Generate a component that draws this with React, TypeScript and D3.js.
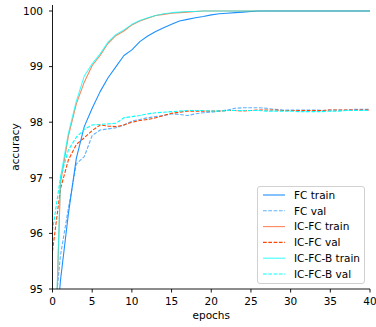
import React from "react";
import * as d3 from "d3";

// Accuracy (%) per epoch, epochs 0..40
const epochs = d3.range(0, 41);

const fcTrain = [93.4, 95.15, 96.35, 97.35, 97.92, 98.25, 98.55, 98.8, 99.0, 99.2, 99.3, 99.45, 99.55, 99.63, 99.7, 99.76, 99.82, 99.85, 99.88, 99.9, 99.93, 99.95, 99.96, 99.97, 99.98, 99.99, 100, 100, 100, 100, 100, 100, 100, 100, 100, 100, 100, 100, 100, 100, 100];
const fcVal = [94.1, 95.6, 96.45, 97.25, 97.38, 97.76, 97.86, 97.88, 97.9, 97.95, 98.02, 98.05, 98.08, 98.1, 98.12, 98.15, 98.14, 98.12, 98.15, 98.17, 98.18, 98.2, 98.22, 98.25, 98.26, 98.26, 98.26, 98.25, 98.23, 98.22, 98.22, 98.22, 98.22, 98.22, 98.21, 98.22, 98.22, 98.22, 98.23, 98.23, 98.23];
const icfcTrain = [92.15, 96.9, 97.75, 98.33, 98.72, 99.02, 99.2, 99.42, 99.56, 99.64, 99.75, 99.82, 99.87, 99.92, 99.94, 99.96, 99.97, 99.98, 99.99, 100, 100, 100, 100, 100, 100, 100, 100, 100, 100, 100, 100, 100, 100, 100, 100, 100, 100, 100, 100, 100, 100];
const icfcVal = [95.68, 96.8, 97.32, 97.6, 97.72, 97.85, 97.95, 97.93, 97.92, 97.95, 98.0, 98.03, 98.05, 98.08, 98.12, 98.16, 98.18, 98.2, 98.2, 98.2, 98.2, 98.2, 98.21, 98.21, 98.2, 98.21, 98.22, 98.22, 98.22, 98.21, 98.21, 98.21, 98.21, 98.21, 98.21, 98.22, 98.22, 98.22, 98.22, 98.22, 98.22];
const icfcbTrain = [92.2, 97.0, 97.8, 98.38, 98.83, 99.05, 99.23, 99.44, 99.58, 99.66, 99.76, 99.83, 99.88, 99.92, 99.95, 99.97, 99.98, 99.99, 99.99, 100, 100, 100, 100, 100, 100, 100, 100, 100, 100, 100, 100, 100, 100, 100, 100, 100, 100, 100, 100, 100, 100];
const icfcbVal = [96.05, 97.0, 97.5, 97.73, 97.87, 97.95, 97.96, 97.97, 97.98, 98.08, 98.1, 98.12, 98.15, 98.17, 98.18, 98.19, 98.2, 98.21, 98.21, 98.21, 98.2, 98.2, 98.21, 98.21, 98.21, 98.21, 98.21, 98.2, 98.2, 98.2, 98.2, 98.19, 98.19, 98.19, 98.19, 98.2, 98.2, 98.21, 98.21, 98.21, 98.21];

const seriesNames = ["FC train", "FC val", "IC-FC train", "IC-FC val", "IC-FC-B train", "IC-FC-B val"];
const seriesValues = [fcTrain, fcVal, icfcTrain, icfcVal, icfcbTrain, icfcbVal];
const seriesColors = ["#1e90ff", "#1e90ff", "#ff4500", "#ff4500", "#00ffff", "#00ffff"];
const seriesOpacity = [1, 0.7, 0.65, 1, 0.75, 1];
const seriesDashed = [false, true, false, true, false, true];

const xTicks = [0, 5, 10, 15, 20, 25, 30, 35, 40];
const yTicks = [95, 96, 97, 98, 99, 100];

const W = 376;
const H = 327;
const left = 52.5;
const right = 370;
const top = 5;
const bottom = 289;
const FONT = "'DejaVu Sans', sans-serif";

export default function App() {
  const x = d3.scaleLinear().domain([0, 40]).range([left, right]);
  const y = d3.scaleLinear().domain([95, 100.108]).range([bottom, top]);
  const line = d3
    .line<number>()
    .x((_, i) => x(epochs[i]))
    .y((d) => y(d));

  return (
    <svg
      width={W}
      height={H}
      style={{ position: "absolute", left: 0, top: 0, background: "#fff" }}
      fontFamily={FONT}
    >
      <defs>
        <clipPath id="plot-area">
          <rect x={left} y={top} width={right - left} height={bottom - top} />
        </clipPath>
      </defs>

      <g clipPath="url(#plot-area)">
        {seriesValues.map((vals, k) => (
          <path
            key={seriesNames[k]}
            d={line(vals) ?? ""}
            fill="none"
            stroke={seriesColors[k]}
            strokeOpacity={seriesOpacity[k]}
            strokeWidth={1.1}
            strokeDasharray={seriesDashed[k] ? "3.7 1.6" : undefined}
            strokeLinejoin="round"
          />
        ))}
      </g>

      {/* spines */}
      <line x1={left} x2={left} y1={top} y2={bottom} stroke="#000" strokeWidth={0.9} />
      <line x1={left} x2={right} y1={bottom} y2={bottom} stroke="#000" strokeWidth={0.9} />

      {/* x axis */}
      {xTicks.map((t) => (
        <g key={"x" + t}>
          <line x1={x(t)} x2={x(t)} y1={bottom} y2={bottom + 3.5} stroke="#000" strokeWidth={0.9} />
          <text x={x(t)} y={305} fontSize={10.5} textAnchor="middle" fill="#000">
            {t}
          </text>
        </g>
      ))}
      <text x={(left + right) / 2} y={318.5} fontSize={10.5} textAnchor="middle" fill="#000">
        epochs
      </text>

      {/* y axis */}
      {yTicks.map((t) => (
        <g key={"y" + t}>
          <line x1={left - 3.5} x2={left} y1={y(t)} y2={y(t)} stroke="#000" strokeWidth={0.9} />
          <text x={43} y={y(t) + 3.8} fontSize={10.5} textAnchor="end" fill="#000">
            {t}
          </text>
        </g>
      ))}
      <text
        transform={`translate(18.5, ${(top + bottom) / 2}) rotate(-90)`}
        fontSize={10.5}
        textAnchor="middle"
        fill="#000"
      >
        accuracy
      </text>

      {/* legend */}
      <g>
        <rect x={257.5} y={186.5} width={107} height={97} rx={2.5} fill="#fff" fillOpacity={0.8} stroke="#cccccc" strokeWidth={0.9} />
        {seriesNames.map((name, k) => {
          const ly = 195 + k * 15.8;
          return (
            <g key={"leg" + name}>
              <line
                x1={263}
                x2={285}
                y1={ly}
                y2={ly}
                stroke={seriesColors[k]}
                strokeOpacity={seriesOpacity[k]}
                strokeWidth={1.1}
                strokeDasharray={seriesDashed[k] ? "3.7 1.6" : undefined}
              />
              <text x={294} y={ly + 3.8} fontSize={10.5} fill="#000">
                {name}
              </text>
            </g>
          );
        })}
      </g>
    </svg>
  );
}
